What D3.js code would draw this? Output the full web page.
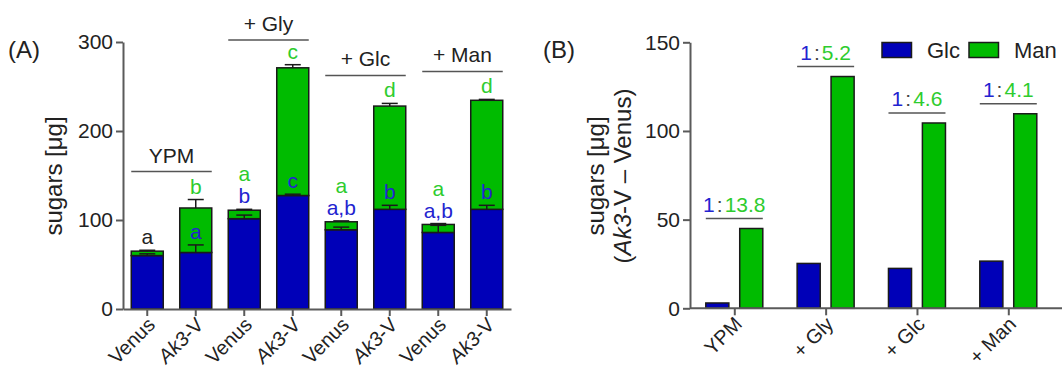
<!DOCTYPE html>
<html>
<head>
<meta charset="utf-8">
<script src="https://cdn.jsdelivr.net/npm/d3@7"></script>
<style>
  body { margin: 0; background: #fff; }
  svg { font-family: "Liberation Sans", Arial, sans-serif; }
  .axis path, .axis line { stroke: #5a5a5a; stroke-width: 2px; }
  .axis text { fill: #222; font-size: 21px; font-family: "Liberation Sans", Arial, sans-serif; }
</style>
</head>
<body>
<div id="chart"></div>
<script>
// ---- DATA (panel A) ----
const groups = ["YPM", "+ Gly", "+ Glc", "+ Man"];
const strains = ["Venus", "Ak3-V", "Venus", "Ak3-V", "Venus", "Ak3-V", "Venus", "Ak3-V"];
const glcMean = [60, 63.5, 101.5, 127.5, 89, 112, 86, 112];
const totalMean = [65, 113.5, 111, 271, 98, 228, 95, 234.5];
const glcErr = [2, 8.5, 4, 1.5, 3, 4.5, 8, 4.5];
const totalErr = [1, 9.5, 1, 3.5, 1, 3, 1, 1];
const greenLetters = ["", "b", "a", "c", "a", "d", "a", "d"];
const blueLetters = ["", "a", "b", "c", "a,b", "b", "a,b", "b"];
const blackLetters = ["a", "", "", "", "", "", "", ""];
const yTicksA = [0, 100, 200, 300];

// ---- DATA (panel B) ----
const diffGlc = [3, 25.3, 22.5, 26.6];
const diffMan = [45, 130.7, 104.5, 109.7];
const ratios = ["13.8", "5.2", "4.6", "4.1"];
const yTicksB = [0, 50, 100, 150];
const series = ["Glc", "Man"];

const BLUE = "#0000b8", GREEN = "#00bb00";
const TXT_BLUE = "#2323d0", TXT_GREEN = "#2ecc2e";

const svg = d3.select("#chart").append("svg")
  .attr("width", 1062).attr("height", 371);

// ================= PANEL A =================
const yA = d3.scaleLinear().domain([0, 300]).range([309, 42]);
const xA = d3.scaleBand().domain(d3.range(8)).range([123, 511])
  .paddingInner(0.34).paddingOuter(0.17);

// stacked bars
const gA = svg.append("g");
const bw = xA.bandwidth();
gA.selectAll(".glc").data(d3.range(8)).join("rect")
  .attr("x", i => xA(i)).attr("width", bw)
  .attr("y", i => yA(glcMean[i])).attr("height", i => yA(0) - yA(glcMean[i]))
  .attr("fill", BLUE).attr("stroke", "#1a1a1a").attr("stroke-width", 1.5);
gA.selectAll(".man").data(d3.range(8)).join("rect")
  .attr("x", i => xA(i)).attr("width", bw)
  .attr("y", i => yA(totalMean[i])).attr("height", i => yA(glcMean[i]) - yA(totalMean[i]))
  .attr("fill", GREEN).attr("stroke", "#1a1a1a").attr("stroke-width", 1.5);

// error bars
function errBar(cx, v, e) {
  const g = gA.append("g").attr("stroke", "#1a1a1a").attr("stroke-width", 1.5);
  g.append("line").attr("x1", cx).attr("x2", cx).attr("y1", yA(v)).attr("y2", yA(v + e));
  g.append("line").attr("x1", cx - 8).attr("x2", cx + 8).attr("y1", yA(v + e)).attr("y2", yA(v + e));
}
d3.range(8).forEach(i => {
  const cx = xA(i) + bw / 2;
  errBar(cx, glcMean[i], glcErr[i]);
  errBar(cx, totalMean[i], totalErr[i]);
});

// letters
const letterG = svg.append("g").attr("font-size", 21).attr("text-anchor", "middle");
d3.range(8).forEach(i => {
  const cx = xA(i) + bw / 2;
  const topY = yA(totalMean[i] + totalErr[i]) - 6;
  if (blackLetters[i]) {
    letterG.append("text").attr("x", cx).attr("y", topY).attr("fill", "#222").text(blackLetters[i]);
  } else if (i % 2 === 0) {
    letterG.append("text").attr("x", cx).attr("y", topY).attr("fill", TXT_BLUE).text(blueLetters[i]);
    letterG.append("text").attr("x", cx).attr("y", topY - 22).attr("fill", TXT_GREEN).text(greenLetters[i]);
  } else {
    letterG.append("text").attr("x", cx).attr("y", topY).attr("fill", TXT_GREEN).text(greenLetters[i]);
    letterG.append("text").attr("x", cx).attr("y", yA(glcMean[i] + glcErr[i]) - 6)
      .attr("fill", TXT_BLUE).text(blueLetters[i]);
  }
});

// group labels
groups.forEach((g, k) => {
  const a = 2 * k, b = 2 * k + 1;
  const top = d3.max([a, b], i => totalMean[i] + totalErr[i]);
  const ly = Math.max(40, yA(top) - 28);
  svg.append("line").attr("x1", xA(a)).attr("x2", xA(b) + bw)
    .attr("y1", ly).attr("y2", ly).attr("stroke", "#555").attr("stroke-width", 1.5);
  svg.append("text").attr("x", (xA(a) + xA(b) + bw) / 2).attr("y", ly - 9)
    .attr("text-anchor", "middle").attr("font-size", 21).attr("fill", "#222").text(g);
});

// axes A
svg.append("g").attr("class", "axis")
  .attr("transform", "translate(123,0)")
  .call(d3.axisLeft(yA).tickValues(yTicksA).tickSize(7).tickSizeOuter(0).tickPadding(3));
svg.append("g").attr("class", "axis")
  .attr("transform", `translate(0,${yA(0)})`)
  .call(d3.axisBottom(xA).tickSize(7).tickSizeOuter(0).tickFormat(""));

const xLabA = svg.append("g").attr("font-size", 20).attr("fill", "#222").attr("text-anchor", "end");
d3.range(8).forEach(i => {
  const cx = xA(i) + bw / 2;
  const t = xLabA.append("text")
    .attr("transform", `translate(${cx + 9},${yA(0) + 17}) rotate(-45)`);
  if (strains[i] === "Venus") t.text("Venus");
  else { t.append("tspan").attr("font-style", "italic").text("Ak3"); t.append("tspan").text("-V"); }
});

svg.append("text").attr("transform", "translate(62,176) rotate(-90)")
  .attr("text-anchor", "middle").attr("font-size", 24).attr("fill", "#222").text("sugars [μg]");
svg.append("text").attr("x", 8).attr("y", 58).attr("font-size", 24).attr("fill", "#222").text("(A)");

// ================= PANEL B =================
const yB = d3.scaleLinear().domain([0, 150]).range([308.3, 42.3]);
const xB = d3.scalePoint().domain(groups).range([734.3, 1008.3]);
const xSub = d3.scaleBand().domain(series).range([-28.5, 28.5]).paddingInner(0.32);
const sbw = xSub.bandwidth();
const valsB = { Glc: diffGlc, Man: diffMan };

const gB = svg.append("g");
groups.forEach((g, k) => {
  series.forEach(s => {
    gB.append("rect")
      .attr("x", xB(g) + xSub(s)).attr("width", sbw)
      .attr("y", yB(valsB[s][k])).attr("height", yB(0) - yB(valsB[s][k]))
      .attr("fill", s === "Glc" ? BLUE : GREEN)
      .attr("stroke", "#1a1a1a").attr("stroke-width", 1.5);
  });
  const ly = yB(diffMan[k]) - 10;
  gB.append("line").attr("x1", xB(g) + xSub("Glc")).attr("x2", xB(g) + xSub("Man") + sbw)
    .attr("y1", ly).attr("y2", ly).attr("stroke", "#555").attr("stroke-width", 1.5);
  const t = gB.append("text").attr("x", xB(g)).attr("y", ly - 7)
    .attr("text-anchor", "middle").attr("font-size", 21);
  t.append("tspan").attr("fill", TXT_BLUE).text("1");
  t.append("tspan").attr("fill", "#444").attr("dx", 2).text(":");
  t.append("tspan").attr("fill", TXT_GREEN).attr("dx", 2).text(ratios[k]);
});

svg.append("g").attr("class", "axis")
  .attr("transform", "translate(690,0)")
  .call(d3.axisLeft(yB).tickValues(yTicksB).tickSize(7).tickSizeOuter(0).tickPadding(3));
const xAxB = svg.append("g").attr("class", "axis")
  .attr("transform", `translate(0,${yB(0)})`)
  .call(d3.axisBottom(xB).tickSize(7).tickSizeOuter(0).tickFormat(""));
xAxB.select(".domain").attr("d", "M690,0H1062");

const xLabB = svg.append("g").attr("font-size", 20).attr("fill", "#222").attr("text-anchor", "end");
groups.forEach(g => {
  xLabB.append("text")
    .attr("transform", `translate(${xB(g) + 9},${yB(0) + 17}) rotate(-45)`)
    .text(g);
});

svg.append("text").attr("transform", "translate(604,176) rotate(-90)")
  .attr("text-anchor", "middle").attr("font-size", 24).attr("fill", "#222").text("sugars [μg]");
const l2 = svg.append("text").attr("transform", "translate(631,176) rotate(-90)")
  .attr("text-anchor", "middle").attr("font-size", 24).attr("fill", "#222");
l2.append("tspan").text("(");
l2.append("tspan").attr("font-style", "italic").text("Ak3");
l2.append("tspan").text("-V – Venus)");
svg.append("text").attr("x", 543).attr("y", 58).attr("font-size", 24).attr("fill", "#222").text("(B)");

// legend
const leg = svg.append("g");
[["Glc", BLUE, 882], ["Man", GREEN, 969]].forEach(([name, c, x]) => {
  leg.append("rect").attr("x", x).attr("y", 42.5).attr("width", 29.5).attr("height", 15)
    .attr("fill", c).attr("stroke", "#1a1a1a").attr("stroke-width", 1.5);
  leg.append("text").attr("x", x + 45).attr("y", 58).attr("font-size", 22).attr("fill", "#222").text(name);
});
</script>
</body>
</html>
